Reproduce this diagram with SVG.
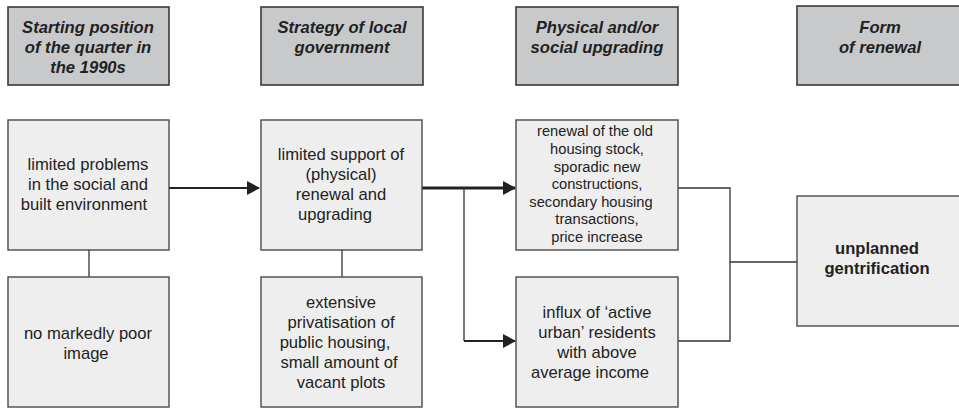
<svg xmlns="http://www.w3.org/2000/svg" width="959" height="408" viewBox="0 0 959 408">
<defs>
<marker id="ah2" markerWidth="13" markerHeight="14" refX="12" refY="7" orient="auto" markerUnits="userSpaceOnUse"><path d="M0,0 L13,7 L0,14 z" fill="#222"/></marker>
</defs>
<style>
.hd rect{fill:#c8c9cb;stroke:#3a3a3a;stroke-width:1.6}
.bx rect{fill:#eeeeee;stroke:#4a4a4a;stroke-width:1.4}
text{font-family:"Liberation Sans",Arial,sans-serif;fill:#222;text-anchor:middle}
.hd text{font-size:16.6px;font-weight:bold;font-style:italic}
.bx text{font-size:16.6px}
.sm text{font-size:14.7px}
.conn path{fill:none;stroke:#333;stroke-width:1.3}
.conn .thick{stroke:#222;stroke-width:2}
.conn .thicker{stroke:#222;stroke-width:3}
</style>
<g id="h1" class="hd"><rect x="8" y="7" width="161" height="78"/><text x="88" y="33">Starting position</text><text x="88" y="53">of the quarter in</text><text x="88" y="73">the 1990s</text></g>
<g id="h2" class="hd"><rect x="261" y="7" width="162" height="78"/><text x="342" y="33">Strategy of local</text><text x="342" y="53">government</text></g>
<g id="h3" class="hd"><rect x="516" y="7" width="162" height="78"/><text x="597" y="33">Physical and/or</text><text x="597" y="53">social upgrading</text></g>
<g id="h4" class="hd"><rect x="797" y="6" width="163" height="79"/><text x="880" y="33">Form</text><text x="880" y="53">of renewal</text></g>

<g id="conn" class="conn">
<path d="M89,250 V277"/>
<path d="M342,250 V277"/>
<path class="thick" d="M169,188 H259" marker-end="url(#ah2)"/>
<path class="thicker" d="M422,188 H515" marker-end="url(#ah2)"/>
<path d="M464,188 V341"/>
<path class="thick" d="M464,341 H515" marker-end="url(#ah2)"/>
<path d="M678,188 H730 V341 H678"/>
<path d="M730,262 H797"/>
</g>

<g id="a" class="bx"><rect x="8" y="120" width="161" height="130"/><text x="88" y="170">limited problems</text><text x="88" y="190">in the social and</text><text x="84" y="210">built environment</text></g>
<g id="b" class="bx"><rect x="8" y="277" width="161" height="130"/><text x="88" y="339">no markedly poor</text><text x="86" y="359">image</text></g>
<g id="c" class="bx"><rect x="261" y="120" width="161" height="130"/><text x="341" y="160">limited support of</text><text x="341" y="180">(physical)</text><text x="341" y="200">renewal and</text><text x="335" y="220">upgrading</text></g>
<g id="d" class="bx"><rect x="261" y="277" width="161" height="130"/><text x="341" y="308">extensive</text><text x="341" y="328">privatisation of</text><text x="335" y="348">public housing,</text><text x="339" y="368">small amount of</text><text x="341" y="388">vacant plots</text></g>
<g id="e" class="bx sm"><rect x="516" y="120" width="162" height="130"/><text x="595" y="136">renewal of the old</text><text x="597" y="154">housing stock,</text><text x="597" y="172">sporadic new</text><text x="597" y="189">constructions,</text><text x="591" y="207">secondary housing</text><text x="597" y="224">transactions,</text><text x="597" y="242">price increase</text></g>
<g id="f" class="bx"><rect x="516" y="277" width="162" height="130"/><text x="597" y="318">influx of ‘active</text><text x="597" y="338">urban’ residents</text><text x="597" y="358">with above</text><text x="590" y="378">average income</text></g>
<g id="g" class="bx"><rect x="797" y="196" width="163" height="130"/><text x="877" y="254" font-weight="bold">unplanned</text><text x="877" y="274" font-weight="bold">gentrification</text></g>
</svg>
